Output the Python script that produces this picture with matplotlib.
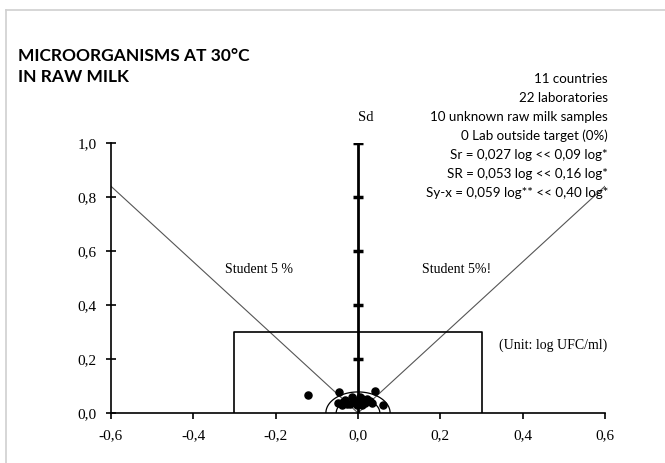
import numpy as np
import matplotlib
matplotlib.use("Agg")
import matplotlib.pyplot as plt
from matplotlib.lines import Line2D

# lab results (x = bias, y = Sd)
lab_x = [-0.121, -0.046, 0.041, -0.048, -0.027, -0.015, 0.005, -0.002, 0.017, 0.012,
         0.034, 0.061, -0.036, -0.008, 0.022, -0.040, 0.003, 0.010, -0.020, 0.028, -0.031, 0.008]
lab_y = [0.067, 0.078, 0.081, 0.037, 0.033, 0.059, 0.059, 0.030, 0.037, 0.048,
         0.037, 0.030, 0.041, 0.045, 0.050, 0.030, 0.040, 0.028, 0.032, 0.044, 0.048, 0.055]

xticks = [-0.6, -0.4, -0.2, 0.0, 0.2, 0.4, 0.6]
yticks = [0.0, 0.2, 0.4, 0.6, 0.8, 1.0]
target = 0.30
student_slope = 1.4
radius_inner = 0.053
radius_outer = 0.078

info = ["11 countries", "22 laboratories", "10 unknown raw milk samples",
        "0 Lab outside target (0%)", "Sr = 0,027 log << 0,09 log*",
        "SR = 0,053 log << 0,16 log*", "Sy-x = 0,059 log** << 0,40 log*"]

fig = plt.figure(figsize=(6.65, 4.63), dpi=100)
ax = fig.add_axes([0.1669, 0.108, 0.7429, 0.583])

def fmt(v):
    return f"{v:.1f}".replace(".", ",")

# student lines
sx = np.array([-0.6, 0.0, 0.6])
ax.plot(sx, np.abs(sx) * student_slope, color="#555555", lw=0.8, zorder=2)

# target box
ax.plot([-target, -target, target, target], [0, target, target, 0], color="black", lw=1.2, zorder=3)

# semicircles
t = np.linspace(0, np.pi, 100)
for r in [radius_inner, radius_outer]:
    ax.plot(r * np.cos(t), r * np.sin(t), color="black", lw=0.9, zorder=3)

# Sd axis
ax.plot([0, 0], [0, 1.0], color="black", lw=2, zorder=4)
ax.plot([0] * 5, yticks[1:], marker="_", ms=7, mew=2.5, ls="none", color="black", zorder=4)

ax.scatter(lab_x, lab_y, s=26, color="black", marker="o", zorder=5)

ax.set_xlim(-0.6, 0.6)
ax.set_ylim(0, 1.0)
ax.set_xticks(xticks)
ax.set_yticks(yticks)
ax.set_xticklabels([fmt(v) for v in xticks], fontfamily="Liberation Serif", fontsize=11)
ax.set_yticklabels([fmt(v) for v in yticks], fontfamily="Liberation Serif", fontsize=11)
ax.tick_params(axis="x", direction="out", length=4, width=1.2, pad=8)
ax.tick_params(axis="y", direction="inout", length=7, width=1.2, pad=7)
for s in ["top", "right"]:
    ax.spines[s].set_visible(False)
ax.spines["left"].set_linewidth(1.2)
ax.spines["bottom"].set_linewidth(1.2)
ax.patch.set_alpha(0)

ax.text(0.0, 1.07, "Sd", fontfamily="Liberation Serif", fontsize=10.5, ha="left", va="bottom")
ax.text(-0.24, 0.53, "Student 5 %", fontfamily="Liberation Serif", fontsize=10, ha="center", va="center")
ax.text(0.24, 0.53, "Student 5%!", fontfamily="Liberation Serif", fontsize=10, ha="center", va="center")
ax.text(0.605, 0.25, "(Unit: log UFC/ml)", fontfamily="Liberation Serif", fontsize=10, ha="right", va="center")

fig.text(18 / 665, 1 - 48 / 463, "MICROORGANISMS AT 30°C\nIN RAW MILK", fontfamily="Lato",
         fontweight="bold", fontsize=12.5, ha="left", va="top", linespacing=1.4)
for i, line in enumerate(info):
    fig.text(608 / 665, 1 - (79 + 19 * i) / 463, line, fontfamily="Lato", fontsize=9.6,
             ha="right", va="center")

# light frame
fig.add_artist(Line2D([6 / 665, 1], [1 - 10 / 463] * 2, color="#d0d0d0", lw=1.2))
fig.add_artist(Line2D([6 / 665] * 2, [0, 1 - 10 / 463], color="#d0d0d0", lw=1.2))

fig.savefig("out.png", dpi=100)
